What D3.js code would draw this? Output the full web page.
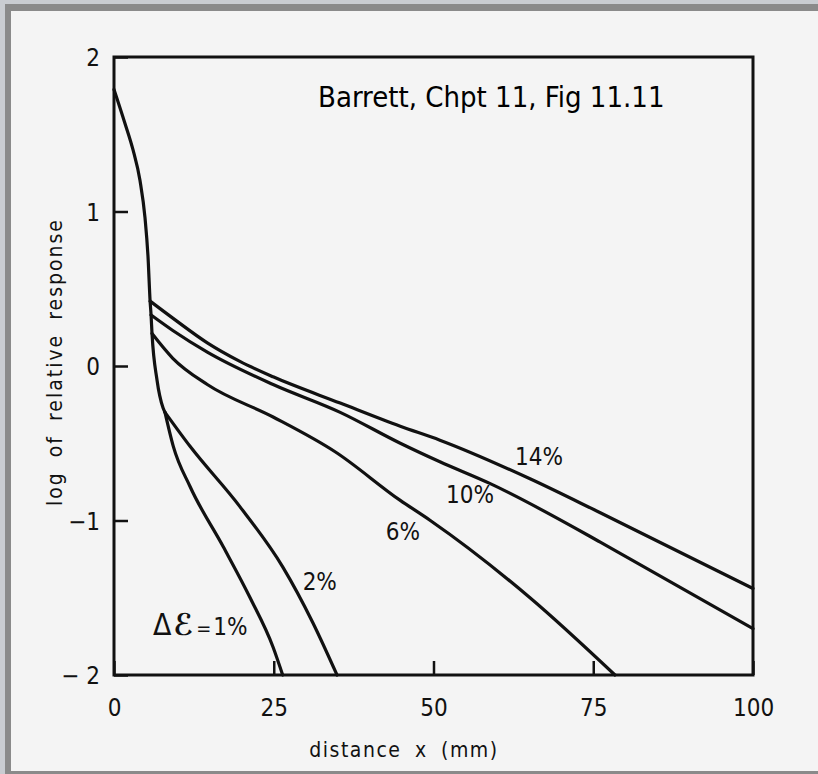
<!DOCTYPE html>
<html>
<head>
<meta charset="utf-8">
<script src="https://cdn.jsdelivr.net/npm/d3@7"></script>
<style>
  html, body { margin: 0; padding: 0; background: #f4f4f4; }
  svg { display: block; }
  .lbl { font-family: "DejaVu Sans Condensed", "DejaVu Sans", sans-serif; fill: #111; }
</style>
</head>
<body>
<svg id="chart" width="818" height="774"></svg>
<script>
// Axis ticks
const xTicks = [0, 25, 50, 75, 100];
const yTicks = [-2, -1, 0, 1, 2];
const yTickLabels = ["\u2212 2", "\u22121", "0", "1", "2"];

// Shared steep initial part of every response curve (x in mm, log response)
const stemX = [0, 1.72, 2.97, 4.07, 4.85, 5.32, 5.65, 5.8, 5.95, 6.73, 7.67, 7.98];
const stemY = [1.79, 1.57, 1.40, 1.20, 0.96, 0.71, 0.42, 0.33, 0.21, -0.09, -0.27, -0.30];

// Branches, each starting where it leaves the shared part
const x14 = [5.65, 9.2, 14.6, 19.7, 24.9, 35.4, 44.8, 51.0, 65.1, 76.1, 100];
const y14 = [0.42, 0.31, 0.15, 0.03, -0.07, -0.24, -0.39, -0.48, -0.73, -0.95, -1.44];

const x10 = [5.8, 9.2, 14.6, 24.9, 35.4, 44.8, 51.0, 58.8, 76.1, 80.8, 100];
const y10 = [0.33, 0.23, 0.09, -0.12, -0.30, -0.50, -0.62, -0.76, -1.14, -1.25, -1.70];

const x6 = [5.95, 9.2, 14.6, 24.9, 34.6, 44.8, 49.5, 65.1, 78.4];
const y6 = [0.21, 0.05, -0.12, -0.33, -0.555, -0.87, -1.0, -1.50, -2.0];

const x2 = [7.98, 11.9, 19.7, 26.4, 31.1, 34.9];
const y2 = [-0.30, -0.52, -0.91, -1.30, -1.66, -2.0];

const x1 = [7.98, 9.28, 11.9, 17.1, 21.3, 24.9, 26.4];
const y1 = [-0.30, -0.52, -0.78, -1.17, -1.50, -1.82, -2.0];

const svg = d3.select("#chart");
const W = 818, H = 774;

// page frame
svg.append("rect").attr("x", 0).attr("y", 0).attr("width", W).attr("height", H).attr("fill", "#f4f4f4");
svg.append("rect").attr("x", 0).attr("y", 0).attr("width", W).attr("height", 11).attr("fill", "#8a8a8a");
svg.append("rect").attr("x", 0).attr("y", 0).attr("width", 11).attr("height", H).attr("fill", "#8a8a8a");
svg.append("rect").attr("x", 0).attr("y", H - 3).attr("width", W).attr("height", 3).attr("fill", "#8a8a8a");
svg.append("rect").attr("x", 0).attr("y", 0).attr("width", W).attr("height", 4).attr("fill", "#c9ccd1");
svg.append("rect").attr("x", 0).attr("y", 0).attr("width", 5).attr("height", H).attr("fill", "#c9ccd1");

const plotLeft = 114, plotRight = 753, plotTop = 57, plotBottom = 675;
const x = d3.scaleLinear().domain([0, 100]).range([plotLeft, plotRight]);
const y = d3.scaleLinear().domain([-2, 2]).range([plotBottom, plotTop]);

const ink = "#111";
const fontFamily = '"DejaVu Sans Condensed", "DejaVu Sans", sans-serif';

// axes (ticks point inward)
const gx = svg.append("g").attr("transform", `translate(0,${plotBottom})`)
  .call(d3.axisBottom(x).tickValues(xTicks).tickFormat(d3.format("d"))
    .tickSizeInner(-14).tickSizeOuter(0).tickPadding(24));
const gy = svg.append("g").attr("transform", `translate(${plotLeft},0)`)
  .call(d3.axisLeft(y).tickValues(yTicks).tickFormat((d, i) => yTickLabels[i])
    .tickSizeInner(-14).tickSizeOuter(0).tickPadding(14));
[gx, gy].forEach(g => {
  g.select(".domain").remove();
  g.selectAll(".tick line").attr("stroke", ink).attr("stroke-width", 2.5);
  g.selectAll(".tick text").attr("fill", ink)
    .style("font-size", "24px").style("font-family", fontFamily);
});
gy.selectAll(".tick text").attr("dy", "0.36em");

// plot frame
svg.append("rect").attr("x", x(0)).attr("y", y(2))
  .attr("width", x(100) - x(0)).attr("height", y(-2) - y(2))
  .attr("fill", "none").attr("stroke", ink).attr("stroke-width", 3);

// curves
const line = d3.line().x(d => x(d[0])).y(d => y(d[1])).curve(d3.curveMonotoneX);
const zip = (xs, ys) => xs.map((v, i) => [v, ys[i]]);
const paths = [zip(stemX, stemY), zip(x14, y14), zip(x10, y10), zip(x6, y6), zip(x2, y2), zip(x1, y1)];
svg.append("g").selectAll("path").data(paths).join("path")
  .attr("d", line)
  .attr("fill", "none").attr("stroke", ink).attr("stroke-width", 3.2)
  .attr("stroke-linejoin", "round").attr("stroke-linecap", "round");

// curve labels (placed in data coordinates)
const curveLabels = [
  { t: "14%", px: 66.5, py: -0.641 },
  { t: "10%", px: 55.7, py: -0.887 },
  { t: "6%",  px: 45.2, py: -1.126 },
  { t: "2%",  px: 32.2, py: -1.45 }
];
svg.append("g").selectAll("text").data(curveLabels).join("text")
  .attr("class", "lbl")
  .attr("x", d => x(d.px)).attr("y", d => y(d.py))
  .attr("text-anchor", "middle")
  .style("font-size", "24px")
  .text(d => d.t);

const dl = svg.append("text").attr("class", "lbl")
  .attr("x", x(6.1)).attr("y", y(-1.741))
  .style("font-size", "24px");
dl.append("tspan").style("font-size", "30px").text("\u0394");
dl.append("tspan").style("font-style", "italic").style("font-size", "30px")
  .style("font-weight", "bold").attr("dx", 2).text("\u2130");
dl.append("tspan").style("font-size", "20px").attr("dx", 3).text("=");
dl.append("tspan").attr("dx", 2).text("1%");

// axis titles
svg.append("text").attr("class", "lbl")
  .attr("transform", `translate(62,362) rotate(-90)`)
  .attr("text-anchor", "middle")
  .style("font-size", "21px").style("letter-spacing", "2px").style("word-spacing", "6px")
  .text("log of relative response");

svg.append("text").attr("class", "lbl")
  .attr("x", 404).attr("y", 757)
  .attr("text-anchor", "middle")
  .style("font-size", "21px").style("letter-spacing", "1.5px").style("word-spacing", "6px")
  .text("distance x (mm)");

// figure reference caption
svg.append("text")
  .attr("x", 318).attr("y", 107)
  .style("font-family", fontFamily)
  .style("font-size", "29px").attr("fill", "#000")
  .text("Barrett, Chpt 11, Fig 11.11");
</script>
</body>
</html>
